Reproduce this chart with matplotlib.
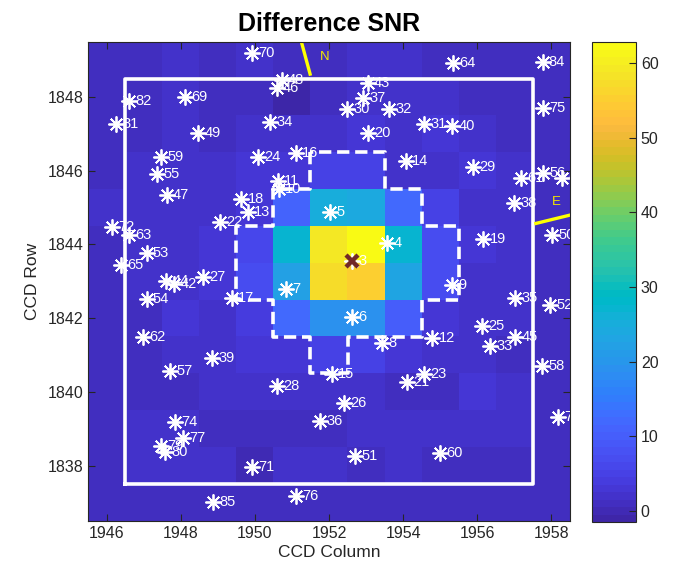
import numpy as np
import matplotlib
matplotlib.use("Agg")
import matplotlib.pyplot as plt
from matplotlib.colors import ListedColormap

plt.rcParams['font.family'] = ['Liberation Sans', 'DejaVu Sans']

# MATLAB parula (R2014a), 64 levels
parula = ListedColormap([
    [0.2422, 0.1504, 0.6603], [0.2504, 0.1650, 0.7076], [0.2578, 0.1818, 0.7511], [0.2647, 0.1978, 0.7952],
    [0.2706, 0.2147, 0.8364], [0.2751, 0.2342, 0.8710], [0.2783, 0.2559, 0.8991], [0.2803, 0.2782, 0.9221],
    [0.2813, 0.3006, 0.9414], [0.2810, 0.3228, 0.9579], [0.2795, 0.3447, 0.9717], [0.2760, 0.3667, 0.9829],
    [0.2699, 0.3892, 0.9906], [0.2602, 0.4123, 0.9952], [0.2440, 0.4358, 0.9988], [0.2206, 0.4603, 0.9973],
    [0.1963, 0.4847, 0.9892], [0.1834, 0.5074, 0.9798], [0.1786, 0.5289, 0.9682], [0.1764, 0.5499, 0.9520],
    [0.1687, 0.5703, 0.9359], [0.1540, 0.5902, 0.9218], [0.1460, 0.6091, 0.9079], [0.1380, 0.6276, 0.8973],
    [0.1248, 0.6459, 0.8883], [0.1113, 0.6635, 0.8763], [0.0952, 0.6798, 0.8598], [0.0689, 0.6948, 0.8394],
    [0.0297, 0.7082, 0.8163], [0.0036, 0.7203, 0.7917], [0.0067, 0.7312, 0.7660], [0.0433, 0.7411, 0.7394],
    [0.0964, 0.7500, 0.7120], [0.1408, 0.7584, 0.6842], [0.1717, 0.7670, 0.6554], [0.1938, 0.7758, 0.6251],
    [0.2161, 0.7843, 0.5923], [0.2470, 0.7918, 0.5567], [0.2906, 0.7973, 0.5188], [0.3406, 0.8008, 0.4789],
    [0.3909, 0.8029, 0.4354], [0.4456, 0.8024, 0.3909], [0.5044, 0.7993, 0.3480], [0.5616, 0.7942, 0.3045],
    [0.6174, 0.7876, 0.2612], [0.6720, 0.7793, 0.2227], [0.7242, 0.7698, 0.1910], [0.7738, 0.7598, 0.1646],
    [0.8203, 0.7498, 0.1535], [0.8634, 0.7406, 0.1596], [0.9035, 0.7330, 0.1774], [0.9393, 0.7288, 0.2100],
    [0.9728, 0.7298, 0.2394], [0.9956, 0.7434, 0.2371], [0.9970, 0.7659, 0.2199], [0.9952, 0.7893, 0.2028],
    [0.9892, 0.8136, 0.1885], [0.9786, 0.8386, 0.1766], [0.9676, 0.8639, 0.1643], [0.9610, 0.8890, 0.1537],
    [0.9597, 0.9135, 0.1423], [0.9628, 0.9373, 0.1265], [0.9691, 0.9606, 0.1064], [0.9769, 0.9839, 0.0805],
])

# pixel grid
cols = np.arange(1946, 1959)
rows = np.arange(1837, 1850)
# difference SNR, rows listed from 1849 (top) down to 1837
snr = np.array([
    [1.5, 1.5, 1.8, 1.5, 1.6, 1.3, 1.5, 1.8, 1.6, 1.5, 1.5, 1.5, 1.5],
    [1.5, 1.0, 2.2, 1.0, 0.8, -1.5, 0.6, 2.5, 2.3, 1.6, 1.5, 1.4, 1.5],
    [1.2, 1.2, 1.8, 0.9, 2.2, 2.0, 2.5, 2.8, 2.5, 3.0, 1.8, 1.5, 1.5],
    [1.5, 1.6, 1.8, 1.8, 2.8, 3.5, 5.5, 5.5, 2.5, 2.2, 2.8, 1.6, 1.5],
    [1.6, 1.8, 1.8, 2.4, 3.5, 11.0, 25.0, 24.5, 12.0, 5.0, 2.2, 1.8, 1.5],
    [1.5, 1.8, 2.2, 3.0, 6.5, 27.0, 59.0, 62.8, 27.0, 7.5, 3.0, 2.0, 1.5],
    [1.5, 1.8, 2.0, 3.0, 7.0, 22.0, 57.0, 55.0, 23.0, 7.5, 2.5, 1.8, 1.5],
    [1.5, 1.0, 3.0, 1.8, 4.0, 12.0, 19.0, 19.0, 10.0, 3.5, 2.0, 1.6, 1.5],
    [1.5, 1.5, 1.8, 2.5, 3.5, 3.0, 5.0, 5.0, 3.0, 2.0, 2.0, 1.2, 1.5],
    [1.5, 1.5, 0.8, 1.8, 2.0, 2.5, 2.5, 2.0, 0.8, 1.0, 2.8, 1.8, 1.5],
    [1.5, 1.6, 1.6, 1.5, 0.6, 1.5, 1.0, 1.8, 1.8, 1.8, 1.8, 1.6, 1.5],
    [1.5, 1.6, 1.6, 1.6, 0.5, 1.8, 2.0, 0.8, 1.6, 1.2, 1.2, 1.3, 1.5],
    [1.5, 1.5, 1.5, 1.5, 1.5, 1.5, 1.5, 1.5, 1.5, 1.5, 1.5, 1.5, 1.5],
])

# catalog stars
star_ids = ['70', '48', '46', '82', '69', '81', '34', '49', '59', '24', '16', '55', '11', '10', '47',
            '18', '13', '5', '22', '72', '63', '53', '65', '27', '44', '42', '54', '17', '7', '62',
            '39', '57', '28', '74', '77', '79', '80', '71', '85', '76', '36', '64', '84', '43', '37',
            '30', '32', '75', '31', '40', '20', '14', '29', '61', '56', '66', '38', '50', '19', '4',
            '9', '35', '52', '6', '25', '45', '33', '12', '8', '58', '15', '21', '23', '26', '78',
            '51', '60', '3']
star_col = [1949.93, 1950.72, 1950.59, 1946.61, 1948.12, 1946.26, 1950.41, 1948.47, 1947.47, 1950.09,
            1951.11, 1947.37, 1950.62, 1950.65, 1947.62, 1949.63, 1949.81, 1952.03, 1949.06, 1946.14,
            1946.61, 1947.08, 1946.38, 1948.59, 1947.60, 1947.82, 1947.08, 1949.38, 1950.83, 1946.98,
            1948.84, 1947.71, 1950.59, 1947.85, 1948.07, 1947.47, 1947.58, 1949.93, 1948.88, 1951.11,
            1951.76, 1955.34, 1957.76, 1953.04, 1952.91, 1952.49, 1953.62, 1957.76, 1954.57, 1955.32,
            1953.04, 1954.07, 1955.89, 1957.17, 1957.78, 1958.28, 1956.99, 1958.01, 1956.16, 1953.56,
            1955.31, 1957.03, 1957.96, 1952.63, 1956.13, 1957.02, 1956.34, 1954.79, 1953.42, 1957.74,
            1952.07, 1954.11, 1954.57, 1952.40, 1958.18, 1952.70, 1954.99, 1952.62]
star_row = [1849.20, 1848.46, 1848.24, 1847.90, 1848.01, 1847.27, 1847.33, 1847.02, 1846.38, 1846.36,
            1846.47, 1845.91, 1845.73, 1845.50, 1845.34, 1845.23, 1844.89, 1844.89, 1844.62, 1844.47,
            1844.26, 1843.78, 1843.44, 1843.13, 1843.01, 1842.93, 1842.51, 1842.56, 1842.80, 1841.48,
            1840.91, 1840.58, 1840.17, 1839.18, 1838.74, 1838.53, 1838.38, 1837.96, 1837.02, 1837.19,
            1839.21, 1848.93, 1848.96, 1848.37, 1847.97, 1847.67, 1847.67, 1847.69, 1847.26, 1847.22,
            1847.03, 1846.26, 1846.11, 1845.80, 1845.95, 1845.80, 1845.12, 1844.26, 1844.14, 1844.05,
            1842.90, 1842.54, 1842.36, 1842.04, 1841.79, 1841.50, 1841.25, 1841.46, 1841.32, 1840.70,
            1840.48, 1840.28, 1840.48, 1839.69, 1839.33, 1838.26, 1838.34, 1843.54]

# difference image centroid
centroid_col = [1952.62]
centroid_row = [1843.54]

# optimal aperture outline
aperture_col = [1951.5, 1951.5, 1950.5, 1950.5, 1949.5, 1949.5, 1950.5, 1950.5, 1951.5, 1951.5,
                1952.5, 1952.5, 1954.5, 1954.5, 1955.5, 1955.5, 1954.5, 1954.5, 1953.5, 1953.5, 1951.5]
aperture_row = [1846.5, 1845.5, 1845.5, 1844.5, 1844.5, 1842.5, 1842.5, 1841.5, 1841.5, 1840.5,
                1840.5, 1841.5, 1841.5, 1842.5, 1842.5, 1844.5, 1844.5, 1845.5, 1845.5, 1846.5, 1846.5]

# mask box
box_col = [1946.5, 1957.5, 1957.5, 1946.5, 1946.5]
box_row = [1837.5, 1837.5, 1848.5, 1848.5, 1837.5]

# compass
north_col = [1951.20, 1951.49]
north_row = [1849.70, 1848.62]
east_col = [1957.58, 1958.80]
east_row = [1844.57, 1844.87]

dark = (0.15, 0.15, 0.15)

fig = plt.figure(figsize=(6.86, 5.81), dpi=100)
ax = fig.add_axes([0.1283, 0.1033, 0.7026, 0.825])
cax = fig.add_axes([0.863, 0.1015, 0.0641, 0.826])

im = ax.imshow(snr[::-1], cmap=parula, origin='lower', aspect='auto',
               extent=[cols[0] - 0.5, cols[-1] + 0.5, rows[0] - 0.5, rows[-1] + 0.5],
               vmin=snr.min(), vmax=snr.max(), interpolation='nearest')

ax.plot(box_col, box_row, color='white', lw=2.6)
ax.plot(aperture_col, aperture_row, color='white', lw=2.6, ls=(0, (3.4, 1.6)))

ax.plot(star_col, star_row, ls='none', marker=(8, 2, 0), ms=11.5, mew=1.3, color='white')
for sid, c, r in zip(star_ids, star_col, star_row):
    ax.text(c + 0.17, r, sid, color='white', fontsize=10.5, va='center', ha='left', clip_on=True)

ax.plot(centroid_col, centroid_row, ls='none', marker='x', ms=9, mew=3.2, color=(0.45, 0.16, 0.16))

ax.plot(north_col, north_row, color=(1, 1, 0), lw=2.4, clip_on=True)
ax.plot(east_col, east_row, color=(1, 1, 0), lw=2.4, clip_on=True)
ax.text(1951.89, 1849.08, 'N', color=(0.95, 0.9, 0.0), fontsize=9.5, ha='center', va='center')
ax.text(1958.12, 1845.16, 'E', color=(0.95, 0.9, 0.0), fontsize=9.5, ha='center', va='center')

ax.set_xlim(cols[0] - 0.5, cols[-1] + 0.5)
ax.set_ylim(rows[0] - 0.5, rows[-1] + 0.5)
ax.set_xticks(np.arange(1946, 1959, 2))
ax.set_yticks(np.arange(1838, 1849, 2))
ax.tick_params(direction='in', top=True, right=True, length=5, width=0.8, color=dark,
               labelsize=11.5, labelcolor=dark)
for s in ax.spines.values():
    s.set_color(dark)
    s.set_linewidth(0.8)
ax.set_xlabel('CCD Column', fontsize=12.5, color=dark, labelpad=3)
ax.set_ylabel('CCD Row', fontsize=12.5, color=dark, labelpad=5)
ax.set_title('Difference SNR', fontsize=18, fontweight='bold', pad=8)

cb = fig.colorbar(im, cax=cax, ticks=np.arange(0, 61, 10))
cb.ax.tick_params(direction='in', length=5, width=0.8, color=dark, labelsize=11.5, labelcolor=dark)
cb.outline.set_edgecolor(dark)
cb.outline.set_linewidth(0.8)

fig.savefig('out.png', dpi=100)
